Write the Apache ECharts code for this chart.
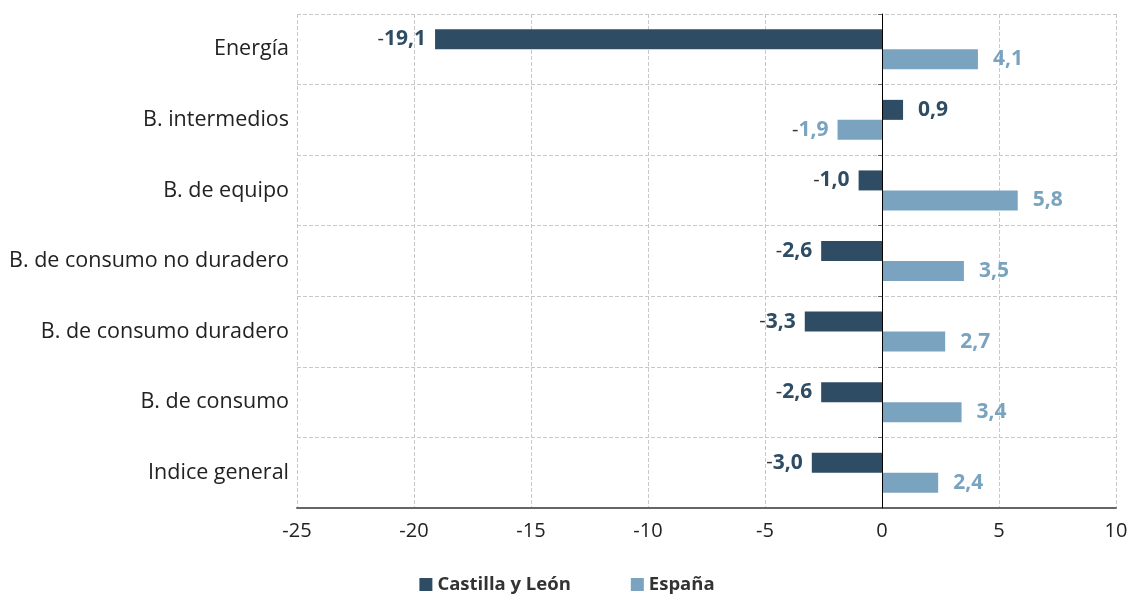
<!DOCTYPE html>
<html>
<head>
<meta charset="utf-8">
<script src="https://cdn.jsdelivr.net/npm/echarts@6/dist/echarts.min.js"></script>
<style>
    html, body { margin: 0; padding: 0; background: #fff; }
    #chart { width: 1134px; height: 596px; }
</style>
</head>
<body>
<div id="chart"></div>
<script>
    const categories = ['Energía', 'B. intermedios', 'B. de equipo', 'B. de consumo no duradero', 'B. de consumo duradero', 'B. de consumo', 'Indice general'];
    const castilla = [-19.1, 0.9, -1.0, -2.6, -3.3, -2.6, -3.0];
    const espana = [4.1, -1.9, 5.8, 3.5, 2.7, 3.4, 2.4];
    const seriesNames = ['Castilla y León', 'España'];

    const colorDark = '#2e4d65';
    const colorLight = '#7aa3bf';
    const font = 'Open Sans';

    // etiqueta: signo menos en gris oscuro, cifra en el color de la serie
    let fmt = (v) => {
        let txt = Math.abs(v).toFixed(1).replace('.', ',');
        return v < 0 ? '{m|-}{v|' + txt + '}' : '{v|' + txt + '}';
    };

    let build = (values, color) => {
        return values.map((v) => ({
            value: v,
            label: {
                show: true,
                position: v < 0 ? 'left' : 'right',
                distance: v < 0 ? 9 : 15,
                formatter: fmt(v),
                rich: {
                    m: { color: '#333', fontFamily: font, fontSize: 20 },
                    v: { color: color, fontFamily: font, fontWeight: 'bold', fontSize: 21 }
                }
            }
        }));
    };

    let chart = echarts.init(document.getElementById('chart'));
    chart.setOption({
        backgroundColor: '#fff',
        animation: false,
        textStyle: { fontFamily: font },
        grid: { left: 297, right: 18, top: 14, bottom: 88 },
        legend: {
            top: 570,
            left: 'center',
            itemWidth: 13,
            itemHeight: 13,
            itemGap: 60,
            icon: 'rect',
            data: seriesNames,
            textStyle: { fontFamily: font, fontWeight: 'bold', fontSize: 18.5, color: '#333' }
        },
        xAxis: {
            type: 'value',
            min: -25,
            max: 10,
            interval: 5,
            z: 2,
            axisLine: { show: true, onZero: false, lineStyle: { color: '#666', width: 2 } },
            axisTick: { show: false },
            axisLabel: { fontSize: 20, color: '#222', margin: 13, fontFamily: font },
            splitLine: { show: true, lineStyle: { color: '#c8c8c8', type: 'dashed', width: 1 } }
        },
        yAxis: [
            {
                type: 'category',
                inverse: true,
                z: 0,
                data: categories,
                axisLine: { show: false },
                axisTick: { show: false },
                axisLabel: { fontSize: 21.5, color: '#222', margin: 8, fontFamily: font },
                splitLine: { show: true, lineStyle: { color: '#c8c8c8', type: 'dashed', width: 1 } }
            },
            {
                // linea del cero
                type: 'category',
                inverse: true,
                position: 'left',
                offset: -585,
                z: 3,
                data: categories,
                axisLine: { show: true, lineStyle: { color: '#000', width: 1 } },
                axisTick: { show: true, length: 4, lineStyle: { color: '#666' } },
                axisLabel: { show: false },
                splitLine: { show: false }
            }
        ],
        series: [
            {
                name: seriesNames[0],
                type: 'bar',
                yAxisIndex: 0,
                barWidth: 20,
                barGap: '0%',
                itemStyle: { color: colorDark },
                data: build(castilla, colorDark)
            },
            {
                name: seriesNames[1],
                type: 'bar',
                yAxisIndex: 0,
                barWidth: 20,
                barGap: '0%',
                itemStyle: { color: colorLight },
                data: build(espana, colorLight)
            }
        ]
    });
</script>
</body>
</html>
